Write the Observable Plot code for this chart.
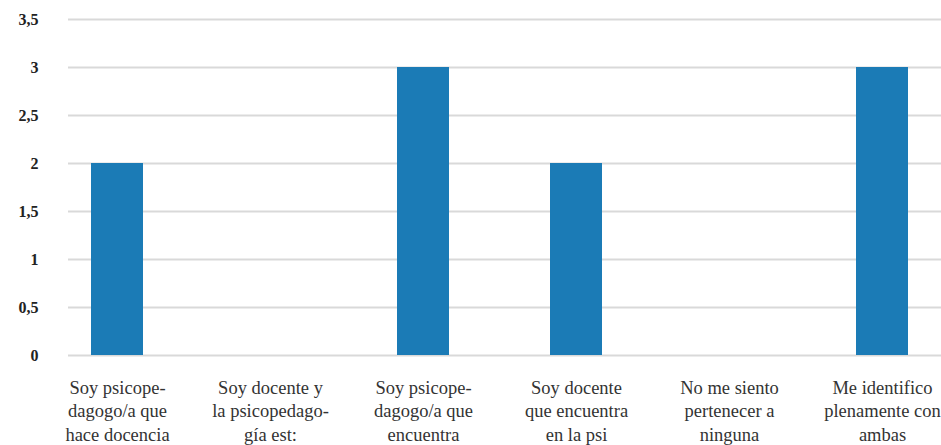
<!DOCTYPE html>
<html>
<head>
<meta charset="utf-8">
<script src="https://cdn.jsdelivr.net/npm/d3@7"></script>
<script src="https://cdn.jsdelivr.net/npm/@observablehq/plot@0.6"></script>
<style>
  html, body { margin: 0; padding: 0; background: #fff; overflow: hidden; }
  #chart svg { display: block; font-family: "Liberation Serif", serif; }
</style>
</head>
<body>
<div id="chart"></div>
<script>
const categories = [
  "Soy psicope-\ndagogo/a que\nhace docencia",
  "Soy docente y\nla psicopedago-\ngía est:",
  "Soy psicope-\ndagogo/a que\nencuentra",
  "Soy docente\nque encuentra\nen la psi",
  "No me siento\npertenecer a\nninguna",
  "Me identifico\nplenamente con\nambas"
];
const values = [2, 0, 3, 2, 0, 3];
const yTicks = [0, 0.5, 1, 1.5, 2, 2.5, 3, 3.5];
const yTickLabels = ["0", "0,5", "1", "1,5", "2", "2,5", "3", "3,5"];

const data = categories.map((c, i) => ({cat: c, value: values[i]}));
const yLabelData = yTicks.map((t, i) => ({t, label: yTickLabels[i]}));

const chart = Plot.plot({
  width: 941,
  height: 445,
  marginLeft: 68,
  marginRight: 0,
  marginTop: 19,
  marginBottom: 90,
  x: {type: "band", domain: categories, range: [40.5, 958.5], paddingInner: 0.66, paddingOuter: 0.33, axis: null},
  y: {domain: [0, 3.5], axis: null},
  marks: [
    Plot.gridY(yTicks, {stroke: "#d9d9d9", strokeOpacity: 1, strokeWidth: 2}),
    Plot.barY(data, {x: "cat", y: "value", fill: "#1b7bb6"}),
    Plot.text(yLabelData, {
      y: "t", text: "label", frameAnchor: "left", textAnchor: "end", dx: -30,
      fontFamily: "Liberation Serif", fontSize: 16, fontWeight: "bold", fill: "#222"
    }),
    Plot.text(data, {
      x: "cat", text: "cat", frameAnchor: "bottom", lineAnchor: "top", dy: 22,
      fontFamily: "Liberation Serif", fontSize: 18.5, lineHeight: 1.26, fill: "#333"
    })
  ]
});
document.getElementById("chart").appendChild(chart);
</script>
</body>
</html>
